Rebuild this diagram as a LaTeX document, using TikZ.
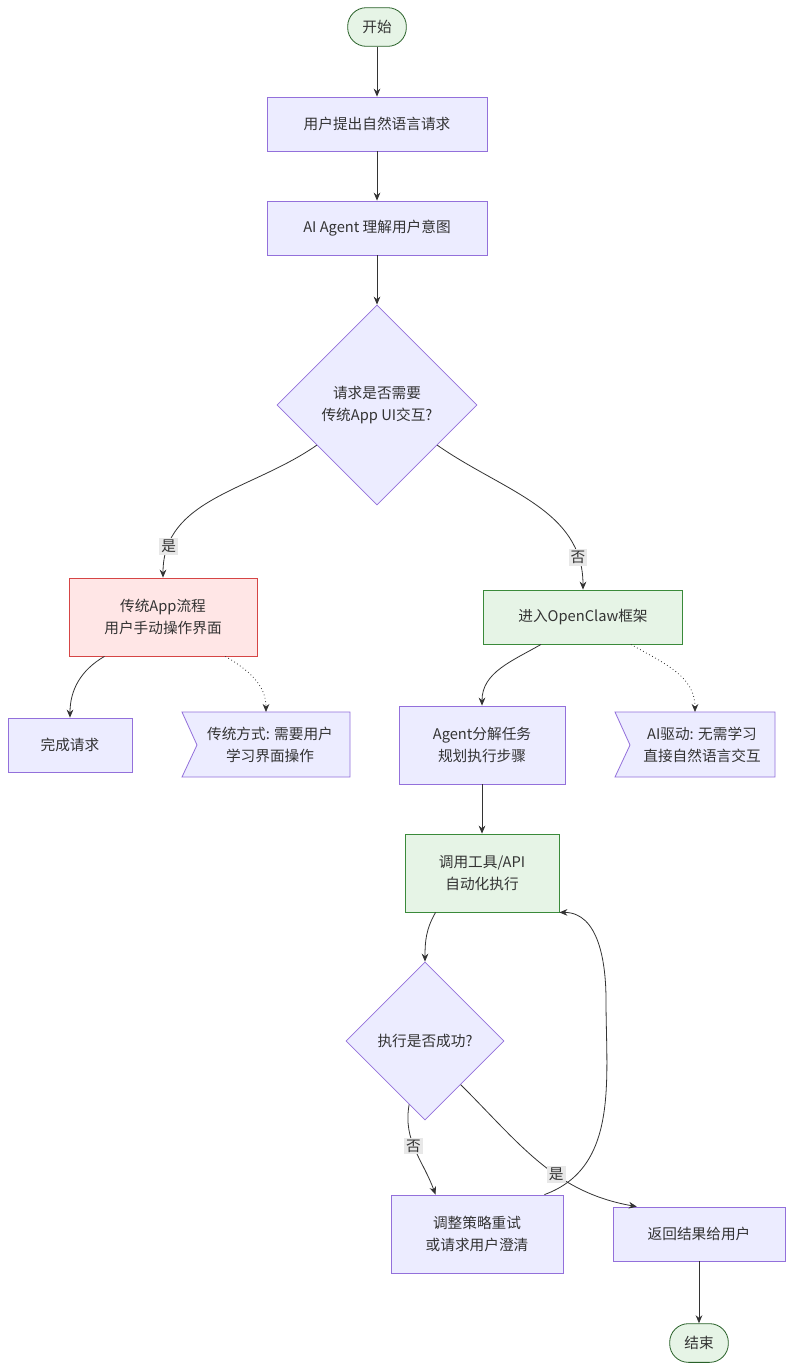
\documentclass[tikz,border=0pt]{standalone}
\usepackage{fontspec}
\setmainfont{Liberation Sans}
\newfontfamily\cjk{Noto Sans CJK SC}
\usetikzlibrary{shapes.geometric,shapes.misc,calc,arrows.meta}
\definecolor{pf}{HTML}{ECECFF}\definecolor{ps}{HTML}{9370DB}
\definecolor{gf}{HTML}{E6F4E6}\definecolor{gs}{HTML}{3A8A3A}
\definecolor{rf}{HTML}{FFE6E6}\definecolor{rs}{HTML}{D64545}
\definecolor{tx}{HTML}{333333}\definecolor{lb}{HTML}{E8E8E8}
\begin{document}
\begin{tikzpicture}[x=0.75pt,y=-0.75pt,font=\cjk\fontsize{11}{16}\selectfont,text=tx,
 box/.style={rectangle,draw=ps,fill=pf,line width=0.6pt,minimum width=#1*0.75pt,align=center},
 green/.style={draw=gs,fill=gf},red/.style={draw=rs,fill=rf},
 term/.style={rectangle,rounded corners=14pt,draw=gs!70!black,fill=gf,line width=0.6pt,minimum width=44pt,minimum height=29pt},
 dia/.style={diamond,draw=ps,fill=pf,line width=0.6pt,minimum width=#1*0.75pt,minimum height=#1*0.75pt,aspect=1,align=center,inner sep=0pt},
 arr/.style={draw=tx,line width=0.6pt,-{Stealth[length=6pt,width=5pt]}},
 dot/.style={arr,dotted},
 lab/.style={fill=lb,inner sep=1.5pt,text=tx}]
\fill[white] (0,0) rectangle (794,1371);
\node[term] (s) at (377,27) {开始};
\node[box=220,minimum height=40.5pt] (n1) at (377,124) {用户提出自然语言请求};
\node[box=220,minimum height=40.5pt] (n2) at (377,228) {AI Agent 理解用户意图};
\node[dia=200] (d1) at (377,405) {请求是否需要\\传统App UI交互?};
\node[box=188,red,minimum height=58.5pt] (tr) at (163,617) {传统App流程\\用户手动操作界面};
\node[box=199,green,minimum height=40.5pt] (oc) at (583,617) {进入OpenClaw框架};
\node[box=124,minimum height=40.5pt] (dn) at (70,745) {完成请求};
\draw[draw=ps,fill=pf,line width=0.6pt] (182,712)--(350,712)--(350,777)--(182,777)--(197,745)--cycle;
\node[align=center] (f1) at (270,745) {传统方式: 需要用户\\学习界面操作};
\node[box=166,minimum height=58.5pt] (ag) at (482,745) {Agent分解任务\\规划执行步骤};
\draw[draw=ps,fill=pf,line width=0.6pt] (615,712)--(775,712)--(775,777)--(615,777)--(630,745)--cycle;
\node[align=center] (f2) at (702,745) {AI驱动: 无需学习\\直接自然语言交互};
\node[box=154,green,minimum height=58.5pt] (tl) at (482,873) {调用工具/API\\自动化执行};
\node[dia=158] (d2) at (425,1041) {执行是否成功?};
\node[box=172,minimum height=58.5pt] (ad) at (477,1234) {调整策略重试\\或请求用户澄清};
\node[box=172,minimum height=40.5pt] (rt) at (699,1234) {返回结果给用户};
\node[term] (e) at (699,1343) {结束};
\coordinate (f1t) at (266,712);
\coordinate (f2t) at (695,712);
\coordinate (lp) at (606,1000);
\draw[arr] (s) -- (n1);
\draw[arr] (n1) -- (n2);
\draw[arr] (n2) -- (d1);
\draw[arr] ($(d1.west)!0.4!(d1.south)$) to[out=-145,in=90] node[lab,pos=0.85]{是} (tr.north);
\draw[arr] ($(d1.east)!0.4!(d1.south)$) to[out=-35,in=90] node[lab,pos=0.85]{否} (oc.north);
\draw[arr] ($(tr.south west)!0.19!(tr.south east)$) to[out=-150,in=90] (dn.north);
\draw[dot] ($(tr.south west)!0.83!(tr.south east)$) to[out=-30,in=90] (f1t);
\draw[arr] ($(oc.south west)!0.29!(oc.south east)$) to[out=-150,in=90] (ag.north);
\draw[dot] ($(oc.south west)!0.74!(oc.south east)$) to[out=-30,in=90] (f2t);
\draw[arr] (ag) -- (tl);
\draw[arr] ($(tl.south west)!0.2!(tl.south east)$) to[out=-120,in=90] (d2.north);
\draw[arr] ($(d2.west)!0.8!(d2.south)$) to[out=-100,in=110] node[lab,pos=0.45]{否} ($(ad.north west)!0.26!(ad.north east)$);
\draw[arr] ($(d2.east)!0.55!(d2.south)$) to[out=-45,in=170] node[lab,pos=0.6]{是} ($(rt.north west)!0.14!(rt.north east)$);
\draw[arr] ($(ad.north west)!0.89!(ad.north east)$) to[out=20,in=-90] (lp) to[out=90,in=0] (tl.south east);
\draw[arr] (rt) -- (e);
\end{tikzpicture}
\end{document}
